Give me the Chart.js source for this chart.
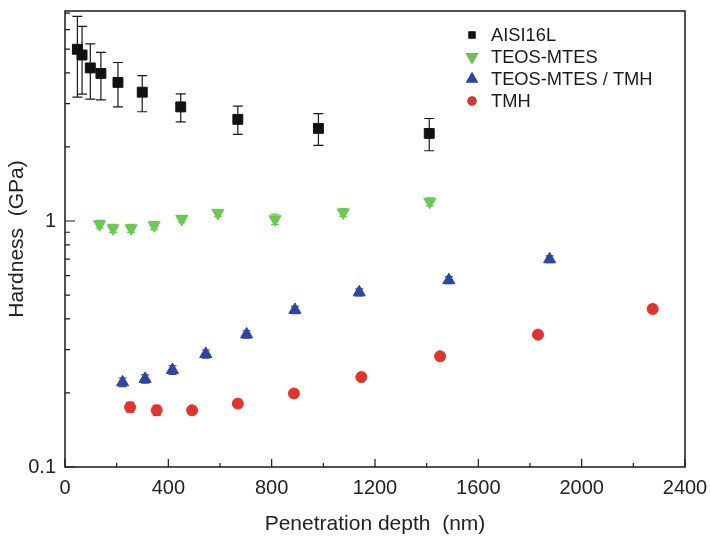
<!DOCTYPE html>
<html>
<head>
<meta charset="utf-8">
<script src="https://cdn.jsdelivr.net/npm/chart.js@4/dist/chart.umd.min.js"></script>
<style>
  html, body { margin: 0; padding: 0; background: #fff; }
</style>
</head>
<body>
<canvas id="hardnessChart" width="710" height="537"></canvas>
<script>
// Data (depth in nm, hardness in GPa, +/- error)
const seriesNames = ["AISI16L", "TEOS-MTES", "TEOS-MTES / TMH", "TMH"];

const depthAisi = [48, 66, 98, 139, 205, 299, 448, 669, 981, 1410];
const hardAisi = [4.99, 4.73, 4.19, 3.98, 3.66, 3.34, 2.91, 2.59, 2.38, 2.27];
const errAisi = [1.8, 1.45, 1.06, 0.87, 0.75, 0.56, 0.38, 0.34, 0.35, 0.34];

const depthTeos = [134, 186, 256, 345, 452, 592, 813, 1077, 1412];
const hardTeos = [0.970, 0.934, 0.934, 0.960, 1.019, 1.078, 1.016, 1.084, 1.197];
const errTeos = [0.035, 0.035, 0.035, 0.035, 0.035, 0.035, 0.05, 0.04, 0.045];

const depthMix = [223, 310, 416, 545, 703, 890, 1139, 1486, 1876];
const hardMix = [0.221, 0.228, 0.248, 0.288, 0.346, 0.435, 0.513, 0.575, 0.699];
const errMix = [0.009, 0.009, 0.01, 0.011, 0.012, 0.015, 0.017, 0.019, 0.022];

const depthTmh = [252, 355, 492, 669, 886, 1147, 1452, 1831, 2275];
const hardTmh = [0.175, 0.170, 0.170, 0.181, 0.199, 0.232, 0.282, 0.345, 0.439];
const errTmh = [0.008, 0.008, 0.006, 0.006, 0.005, 0.007, 0.008, 0.011, 0.016];

const xTicks = [0, 400, 800, 1200, 1600, 2000, 2400];

const toPoints = (xs, ys) => xs.map((x, i) => ({ x: x, y: ys[i] }));

const axisColor = "#1a1a1a";
const fontFamily = "'Liberation Sans', Arial, sans-serif";

// keep the plot box where the reference has it
function fixBox(s, size) {
    if (s.isHorizontal()) s.height = size; else s.width = size;
    s.paddingTop = 0; s.paddingBottom = 0;
    s.paddingLeft = 0; s.paddingRight = 0;
}

// error bars under the markers
const errorBars = {
    id: "errorBars",
    beforeDatasetsDraw(chart) {
        const ctx = chart.ctx;
        const xs = chart.scales.x, ys = chart.scales.y;
        chart.data.datasets.forEach(ds => {
            if (!ds.errors) return;
            ctx.save();
            ctx.strokeStyle = ds.barColor;
            ctx.lineWidth = 1.2;
            ds.data.forEach((p, i) => {
                const e = ds.errors[i];
                const px = xs.getPixelForValue(p.x);
                const top = ys.getPixelForValue(p.y + e);
                const bot = ys.getPixelForValue(p.y - e);
                const w = ds.capWidth;
                ctx.beginPath();
                ctx.moveTo(px, top); ctx.lineTo(px, bot);
                ctx.moveTo(px - w, top); ctx.lineTo(px + w, top);
                ctx.moveTo(px - w, bot); ctx.lineTo(px + w, bot);
                ctx.stroke();
            });
            ctx.restore();
        });
    }
};

// box frame with inward tick marks, and the legend block
const frameAndLegend = {
    id: "frameAndLegend",
    afterDraw(chart) {
        const ctx = chart.ctx;
        const a = chart.chartArea;
        const xs = chart.scales.x, ys = chart.scales.y;
        ctx.save();
        ctx.strokeStyle = axisColor;
        ctx.lineWidth = 1.5;
        ctx.strokeRect(a.left, a.top, a.right - a.left, a.bottom - a.top);

        ctx.lineWidth = 1.2;
        ctx.beginPath();
        for (let v = 0; v <= 2400; v += 200) {
            const px = xs.getPixelForValue(v);
            const len = v % 400 === 0 ? 8 : 4;
            ctx.moveTo(px, a.bottom); ctx.lineTo(px, a.bottom - len);
        }
        ys.ticks.forEach(t => {
            const lg = Math.log10(t.value);
            const dec = Math.floor(lg + 1e-9);
            const sig = t.value / Math.pow(10, dec);
            if (Math.abs(sig - Math.round(sig)) > 1e-6) return;
            const py = ys.getPixelForValue(t.value);
            const len = Math.round(sig) === 1 ? 10 : 5;
            ctx.moveTo(a.left, py); ctx.lineTo(a.left + len, py);
        });
        ctx.stroke();

        // legend
        const rowY = [35, 57, 79, 101];
        ctx.font = "18.3px " + fontFamily;
        ctx.textBaseline = "middle";
        chart.data.datasets.forEach((ds, i) => {
            Chart.helpers.drawPoint(ctx, {
                pointStyle: ds.pointStyle,
                rotation: ds.pointRotation || 0,
                radius: ds.legendRadius,
                borderWidth: 0
            }, 472, rowY[i]);
            ctx.fillStyle = ds.backgroundColor;
            ctx.fill();
            ctx.fillStyle = "#1a1a1a";
            ctx.fillText(ds.label, 491, rowY[i] + 1);
        });
        ctx.restore();
    }
};

new Chart(document.getElementById("hardnessChart"), {
    type: "scatter",
    data: {
        datasets: [{
            label: seriesNames[0],
            data: toPoints(depthAisi, hardAisi),
            errors: errAisi,
            barColor: "#1a1a1a",
            capWidth: 5,
            pointStyle: "rect",
            pointRadius: 7,
            legendRadius: 5,
            backgroundColor: "#111111",
            borderColor: "#111111"
        }, {
            label: seriesNames[1],
            data: toPoints(depthTeos, hardTeos),
            errors: errTeos,
            barColor: "#66cc4c",
            capWidth: 4,
            pointStyle: "triangle",
            pointRotation: 180,
            pointRadius: 7,
            legendRadius: 7,
            backgroundColor: "#66cc4c",
            borderColor: "#66cc4c"
        }, {
            label: seriesNames[2],
            data: toPoints(depthMix, hardMix),
            errors: errMix,
            barColor: "#2c46a8",
            capWidth: 4,
            pointStyle: "triangle",
            pointRadius: 7,
            legendRadius: 7,
            backgroundColor: "#2c46a8",
            borderColor: "#2c46a8"
        }, {
            label: seriesNames[3],
            data: toPoints(depthTmh, hardTmh),
            errors: errTmh,
            barColor: "#e6322b",
            capWidth: 4,
            pointStyle: "circle",
            pointRadius: 5.5,
            legendRadius: 4.5,
            backgroundColor: "#e6322b",
            borderColor: "#e6322b"
        }]
    },
    options: {
        responsive: false,
        animation: false,
        layout: { padding: { left: 0, top: 11, right: 25, bottom: 0 } },
        plugins: {
            legend: { display: false },
            tooltip: { enabled: false }
        },
        scales: {
            x: {
                type: "linear",
                min: 0,
                max: 2400,
                afterFit: s => fixBox(s, 70),
                afterBuildTicks: s => { s.ticks = xTicks.map(v => ({ value: v })); },
                grid: { display: false, drawTicks: false },
                border: { display: false },
                ticks: {
                    color: "#222",
                    padding: 9,
                    maxRotation: 0,
                    autoSkip: false,
                    font: { family: fontFamily, size: 20 },
                    callback: v => String(v)
                },
                title: {
                    display: true,
                    text: "Penetration depth  (nm)",
                    color: "#222",
                    padding: { top: 0, bottom: 0 },
                    font: { family: fontFamily, size: 21 }
                }
            },
            y: {
                type: "logarithmic",
                min: 0.1,
                max: 7.14,
                afterFit: s => fixBox(s, 65),
                grid: { display: false, drawTicks: false },
                border: { display: false },
                ticks: {
                    color: "#222",
                    padding: 9,
                    autoSkip: false,
                    font: { family: fontFamily, size: 20 },
                    callback: v => {
                        const lg = Math.log10(v);
                        if (Math.abs(lg - Math.round(lg)) > 1e-6) return "";
                        return v >= 1 ? String(Math.round(v)) : v.toFixed(1);
                    }
                },
                title: {
                    display: true,
                    text: "Hardness  (GPa)",
                    color: "#222",
                    padding: { top: 5, bottom: 0 },
                    font: { family: fontFamily, size: 21 }
                }
            }
        }
    },
    plugins: [errorBars, frameAndLegend]
});
</script>
</body>
</html>
